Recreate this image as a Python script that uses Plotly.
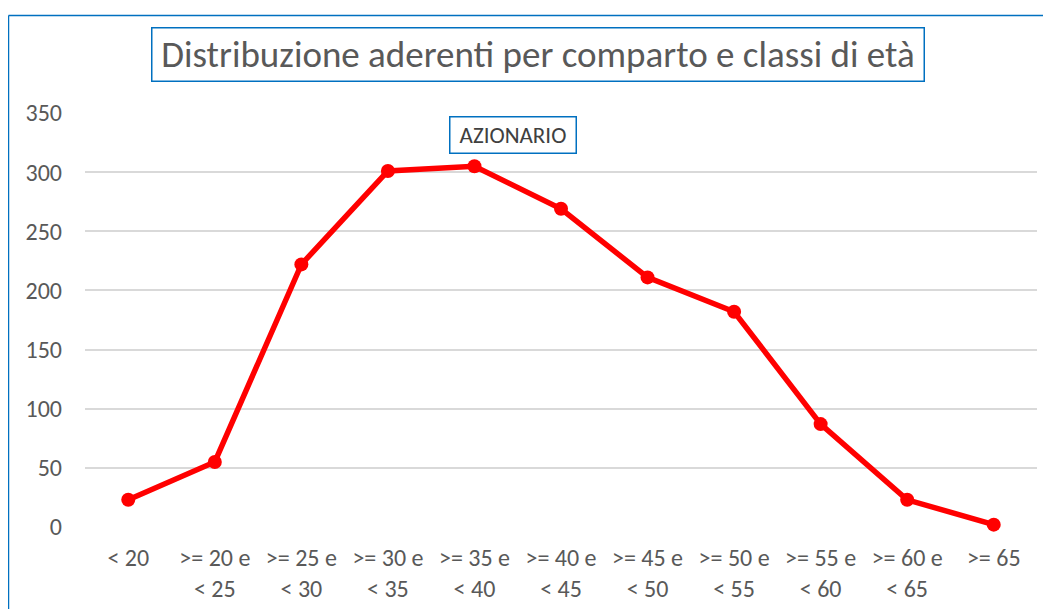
import plotly.graph_objects as go

categories = ["< 20", ">= 20 e<br>< 25", ">= 25 e<br>< 30", ">= 30 e<br>< 35", ">= 35 e<br>< 40",
              ">= 40 e<br>< 45", ">= 45 e<br>< 50", ">= 50 e<br>< 55", ">= 55 e<br>< 60",
              ">= 60 e<br>< 65", ">= 65"]
azionario = [23, 55, 222, 301, 305, 269, 211, 182, 87, 23, 2]
y_ticks = [0, 50, 100, 150, 200, 250, 300, 350]

title_text = "Distribuzione aderenti per comparto e classi di età"
series_name = "AZIONARIO"

OFF = 8  # page offset of the figure
W, H = 1043, 601
L, R, T, B = 77, 14, 105, 82
pw, ph = W - L - R, H - T - B

def px_x(x):
    return (x - OFF - L) / pw

def px_y(y):
    return (H - B - (y - OFF)) / ph

FONT = "Carlito, Open Sans, sans-serif"
GREY = "#595959"
BLUE = "#0070C0"

fig = go.Figure()
fig.add_trace(go.Scatter(
    x=list(range(len(categories))), y=azionario, mode="lines+markers",
    line=dict(color="#FF0000", width=5.5),
    marker=dict(color="#FF0000", size=14),
    name=series_name, showlegend=False, cliponaxis=False,
))

fig.update_layout(
    width=W, height=H,
    margin=dict(l=L, r=R, t=T, b=B, autoexpand=False),
    plot_bgcolor="white", paper_bgcolor="white",
    font=dict(family=FONT, color=GREY, size=24),
    xaxis=dict(
        tickmode="array", tickvals=list(range(len(categories))), ticktext=categories,
        range=[-0.5, len(categories) - 0.5], showgrid=False, zeroline=False,
        showline=False, ticks="", tickfont=dict(size=24, color=GREY),
        ticklabelstandoff=14, automargin=False,
    ),
    yaxis=dict(
        range=[0, 350], tickvals=y_ticks, showgrid=True, gridcolor="#D9D9D9",
        gridwidth=1.5, zeroline=False, showline=False, ticks="",
        tickfont=dict(size=24, color=GREY), ticklabelstandoff=22, automargin=False,
    ),
    shapes=[
        dict(type="line", xref="paper", yref="paper",
             x0=px_x(8.5), x1=px_x(1080), y0=px_y(15.5), y1=px_y(15.5),
             line=dict(color=BLUE, width=1.5), layer="below"),
        dict(type="line", xref="paper", yref="paper",
             x0=px_x(8.5), x1=px_x(8.5), y0=px_y(15.5), y1=px_y(640),
             line=dict(color=BLUE, width=1.5), layer="below"),
    ],
    annotations=[
        dict(text=title_text, xref="paper", yref="paper", x=px_x(537.5), y=px_y(54),
             showarrow=False, font=dict(size=37, color=GREY, family=FONT),
             width=765, height=46,
             bordercolor=BLUE, borderwidth=1.5, borderpad=3, bgcolor="white",
             xanchor="center", yanchor="middle"),
        dict(text=series_name, xref="paper", yref="paper", x=px_x(512.5), y=px_y(135),
             showarrow=False, font=dict(size=23, color="#404040", family=FONT),
             width=119, height=29,
             bordercolor=BLUE, borderwidth=1.5, borderpad=3, bgcolor="white",
             xanchor="center", yanchor="middle"),
    ],
)

fig.write_html("out.html")
